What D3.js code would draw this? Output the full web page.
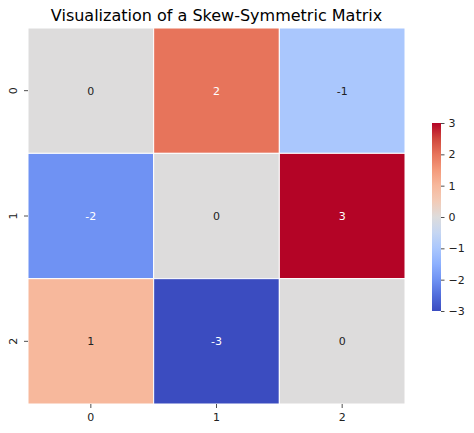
<!DOCTYPE html>
<html>
<head>
<meta charset="utf-8">
<script src="https://cdn.jsdelivr.net/npm/d3@7"></script>
<style>
  body { margin: 0; background: #fff; }
  text { font-family: "DejaVu Sans", sans-serif; }
</style>
</head>
<body>
<div id="chart"></div>
<script>
var rowLabels = ["0", "1", "2"]
var colLabels = ["0", "1", "2"]
var matrix = [
  [0, 2, -1],
  [-2, 0, 3],
  [1, -3, 0]
]
var cbarTicks = [-3, -2, -1, 0, 1, 2, 3]
// coolwarm colormap stops
var cwStops = ["#3b4cc0", "#516ddb", "#6f92f3", "#8db0fe", "#aac7fd", "#c5d6f2", "#dddcdc",
               "#f2cbb7", "#f7b89c", "#f49a7b", "#e7745b", "#d0473d", "#b40426"]

var width = 474, height = 433
var plotLeft = 28, plotTop = 28, plotRight = 405, plotBottom = 404

var svg = d3.select("#chart").append("svg")
  .attr("width", width)
  .attr("height", height)

var color = d3.scaleLinear()
  .domain(cwStops.map(function(d, i) { return -3 + 6 * i / (cwStops.length - 1) }))
  .range(cwStops)
  .interpolate(d3.interpolateRgb)

var x = d3.scaleBand().domain(colLabels).range([plotLeft, plotRight])
var y = d3.scaleBand().domain(rowLabels).range([plotTop, plotBottom])

var cells = []
matrix.forEach(function(row, i) {
  row.forEach(function(v, j) {
    cells.push({ r: rowLabels[i], c: colLabels[j], v: v })
  })
})

svg.append("g").selectAll("rect")
  .data(cells)
  .enter()
  .append("rect")
  .attr("x", function(d) { return x(d.c) })
  .attr("y", function(d) { return y(d.r) })
  .attr("width", x.bandwidth())
  .attr("height", y.bandwidth())
  .attr("fill", function(d) { return color(d.v) })
  .attr("stroke", "#fff")
  .attr("stroke-width", 1)

function lum(c) {
  var rgb = d3.rgb(c)
  var f = function(v) { v = v / 255; return v <= 0.03928 ? v / 12.92 : Math.pow((v + 0.055) / 1.055, 2.4) }
  return 0.2126 * f(rgb.r) + 0.7152 * f(rgb.g) + 0.0722 * f(rgb.b)
}

svg.append("g").selectAll("text")
  .data(cells)
  .enter()
  .append("text")
  .attr("x", function(d) { return x(d.c) + x.bandwidth() / 2 })
  .attr("y", function(d) { return y(d.r) + y.bandwidth() / 2 })
  .attr("dy", "0.36em")
  .attr("text-anchor", "middle")
  .style("font-size", "11px")
  .attr("fill", function(d) { return lum(color(d.v)) > 0.408 ? "#222" : "#fff" })
  .text(function(d) { return d.v < 0 ? "-" + Math.abs(d.v) : d.v })

// axes
var xAxis = svg.append("g")
  .attr("transform", "translate(0," + plotBottom + ")")
  .call(d3.axisBottom(x).tickSize(4).tickPadding(5.5))
xAxis.select(".domain").remove()
xAxis.selectAll("text").style("font-size", "11px").attr("fill", "#222").attr("font-family", "DejaVu Sans")
xAxis.selectAll("line").attr("stroke", "#222").attr("stroke-width", 0.8)

var yAxis = svg.append("g")
  .attr("transform", "translate(" + plotLeft + ",0)")
  .call(d3.axisLeft(y).tickSize(4).tickPadding(5.5))
yAxis.select(".domain").remove()
yAxis.selectAll("line").attr("stroke", "#222").attr("stroke-width", 0.8)
yAxis.selectAll("text")
  .style("font-size", "11px")
  .attr("fill", "#222")
  .attr("font-family", "DejaVu Sans")
  .attr("text-anchor", "middle")
  .attr("x", 0)
  .attr("y", 0)
  .attr("dy", "0.36em")
  .attr("transform", "translate(-15,0) rotate(-90)")

// title
svg.append("text")
  .attr("x", (plotLeft + plotRight) / 2)
  .attr("y", 21)
  .attr("text-anchor", "middle")
  .style("font-size", "16px")
  .attr("fill", "#000")
  .text("Visualization of a Skew-Symmetric Matrix")

// colorbar
var cbX = 432, cbW = 9, cbTop = 123, cbBottom = 311
var defs = svg.append("defs")
var grad = defs.append("linearGradient")
  .attr("id", "cw")
  .attr("x1", 0).attr("y1", 1).attr("x2", 0).attr("y2", 0)
grad.selectAll("stop")
  .data(cwStops)
  .enter()
  .append("stop")
  .attr("offset", function(d, i) { return i / (cwStops.length - 1) })
  .attr("stop-color", function(d) { return d })

svg.append("rect")
  .attr("x", cbX)
  .attr("y", cbTop)
  .attr("width", cbW)
  .attr("height", cbBottom - cbTop)
  .attr("fill", "url(#cw)")

var cbScale = d3.scaleLinear().domain([-3, 3]).range([cbBottom, cbTop])
var cbAxis = svg.append("g")
  .attr("transform", "translate(" + (cbX + cbW) + ",0)")
  .call(d3.axisRight(cbScale).tickValues(cbarTicks).tickSize(3.5).tickPadding(4)
    .tickFormat(function(d) { return d < 0 ? "\u2212" + Math.abs(d) : d }))
cbAxis.select(".domain").remove()
cbAxis.selectAll("line").attr("stroke", "#222").attr("stroke-width", 0.8)
cbAxis.selectAll("text").style("font-size", "11px").attr("fill", "#222").attr("font-family", "DejaVu Sans")
</script>
</body>
</html>
